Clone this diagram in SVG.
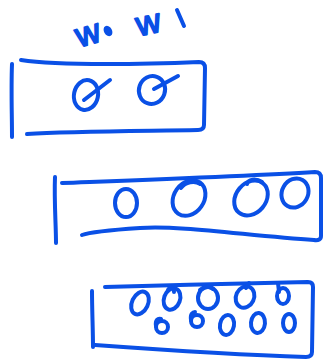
<svg xmlns="http://www.w3.org/2000/svg" width="326" height="360" viewBox="0 0 326 360">
<style>
.s{fill:none;stroke:#0a50e6;stroke-width:4;stroke-linecap:round;stroke-linejoin:round}
.t{font-family:"Liberation Sans",Arial,sans-serif;font-size:34px;fill:#0a50e6;stroke:#0a50e6;stroke-width:1.8;stroke-linejoin:round}
</style>
<rect width="326" height="360" fill="#fff"/>
<g id="labels">
<text class="t" x="76" y="44" transform="rotate(-16 90 35)">w</text>
<ellipse cx="108" cy="31" rx="4" ry="5.5" fill="#0a50e6" transform="rotate(-30 108 31)"/>
<text class="t" x="136" y="33" transform="rotate(-12 153 23)">w</text>
<path class="s" d="M177 10 L184 26"/>
</g>
<g id="box1">
<path class="s" d="M12 64 C11 90 12 115 12 137"/>
<path class="s" d="M21 60 C60 66 150 64 199 62 Q205 62 205 68 L204 125 Q204 130 198 130 C140 131 70 131 27 134"/>
<ellipse class="s" cx="86" cy="95" rx="12" ry="15" transform="rotate(12 86 95)"/>
<path class="s" d="M84 100 L110 80"/>
<ellipse class="s" cx="152" cy="90" rx="13" ry="14" transform="rotate(20 152 90)"/>
<path class="s" d="M154 89 L178 76"/>
</g>
<g id="box2">
<path class="s" d="M55 177 C54 200 56 225 56 243"/>
<path class="s" d="M62 183 C140 180 250 176 315 172 Q321 172 321 178 L321 236 Q321 241 314 240 C250 236 180 225 140 228 C110 230 90 232 82 235"/>
<ellipse class="s" cx="126" cy="203" rx="11" ry="14"/>
<ellipse class="s" cx="189" cy="198" rx="15" ry="19" transform="rotate(35 189 198)"/>
<path class="s" d="M181 188 C185 182 195 180 200 184"/>
<ellipse class="s" cx="251" cy="198" rx="15" ry="19" transform="rotate(40 251 198)"/>
<path class="s" d="M247 184 C248 179 256 178 262 182"/>
<ellipse class="s" cx="295" cy="193" rx="13" ry="15" transform="rotate(30 295 193)"/>
</g>
<g id="box3">
<path class="s" d="M92 291 C92 310 93 330 93 347"/>
<path class="s" d="M105 287 C170 285 250 283 308 282 Q313 282 313 287 L312 352 Q312 357 306 357 C240 355 150 349 95 345"/>
<ellipse class="s" cx="140" cy="303" rx="8" ry="12" transform="rotate(25 140 303)"/>
<ellipse class="s" cx="172" cy="299" rx="8" ry="11" transform="rotate(20 172 299)"/>
<path class="s" d="M168 290 C170 286 174 288 174 292"/>
<ellipse class="s" cx="208" cy="298" rx="10" ry="11"/>
<path class="s" d="M200 290 C204 286 210 286 213 289"/>
<ellipse class="s" cx="245" cy="297" rx="9" ry="11" transform="rotate(25 245 297)"/>
<path class="s" d="M246 288 L249 283"/>
<ellipse class="s" cx="283" cy="296" rx="6" ry="8"/>
<path class="s" d="M279 292 L278 283"/>
<ellipse class="s" cx="162" cy="327" rx="6" ry="6"/>
<path class="s" d="M156 326 C155 320 158 318 161 319"/>
<ellipse class="s" cx="197" cy="321" rx="6" ry="6"/>
<path class="s" d="M191 320 C190 314 193 312 195 312"/>
<ellipse class="s" cx="227" cy="325" rx="7" ry="10" transform="rotate(10 227 325)"/>
<ellipse class="s" cx="258" cy="323" rx="7" ry="10" transform="rotate(5 258 323)"/>
<ellipse class="s" cx="289" cy="323" rx="6" ry="9"/>
</g>
</svg>
